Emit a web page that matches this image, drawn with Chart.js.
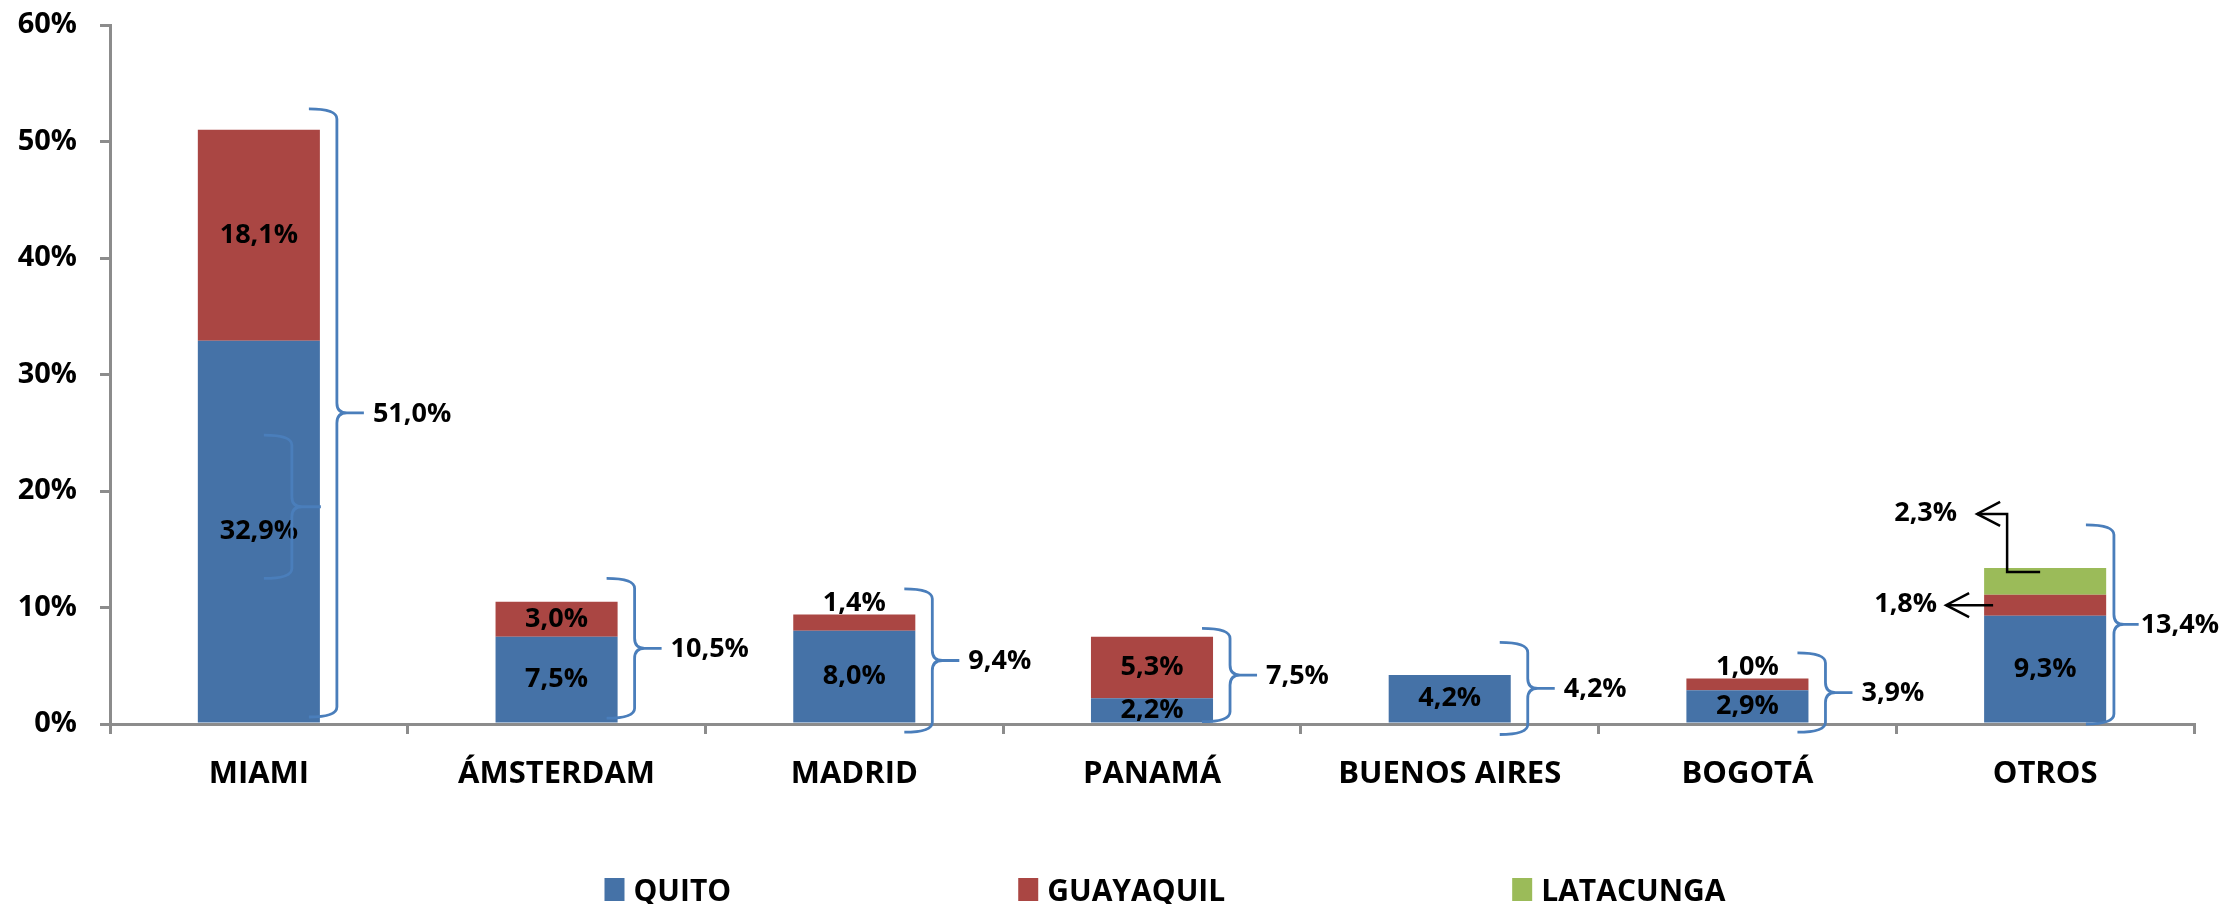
<!DOCTYPE html>
<html>
<head>
<meta charset="utf-8">
<script src="https://cdn.jsdelivr.net/npm/chart.js@4"></script>
<style>
  body { margin: 0; background: #fff; }
</style>
</head>
<body>
<canvas id="chart" width="2222" height="904"></canvas>
<script>
const categories = ['MIAMI', 'ÁMSTERDAM', 'MADRID', 'PANAMÁ', 'BUENOS AIRES', 'BOGOTÁ', 'OTROS'];
const quito = [32.9, 7.5, 8.0, 2.2, 4.2, 2.9, 9.3];
const guayaquil = [18.1, 3.0, 1.4, 5.3, 0, 1.0, 1.8];
const latacunga = [0, 0, 0, 0, 0, 0, 2.3];
const totals = [51.0, 10.5, 9.4, 7.5, 4.2, 3.9, 13.4];
const yTicks = [0, 10, 20, 30, 40, 50, 60];

// how far each bracket reaches above the total / below zero (in % units)
const bracePad = [1.8, 2.0, 2.2, 0.7, 2.8, 2.2, 3.7];
const braceLow = [0.6, 0.5, -0.7, 0.2, -0.9, -0.7, 0];
// the small stray bracket drawn inside the MIAMI bar
const innerBrace = { index: 0, from: 12.5, to: 24.8 };
// labels pulled out of the OTROS bar with arrows
const callouts = [
  { dataset: 1, index: 6, elbow: false },
  { dataset: 2, index: 6, elbow: true }
];

const fmt = v => v.toFixed(1).replace('.', ',') + '%';
const braceColor = '#4A7EBB';

function brace(ctx, x0, x1, x2, yT, yB) {
  const yM = (yT + yB) / 2, r = 10;
  ctx.beginPath();
  ctx.moveTo(x0, yT);
  ctx.quadraticCurveTo(x1, yT, x1, yT + r);
  ctx.lineTo(x1, yM - r);
  ctx.quadraticCurveTo(x1, yM, x1 + r, yM);
  ctx.lineTo(x2, yM);
  ctx.moveTo(x1 + r, yM);
  ctx.quadraticCurveTo(x1, yM, x1, yM + r);
  ctx.lineTo(x1, yB - r);
  ctx.quadraticCurveTo(x1, yB, x0, yB);
  ctx.stroke();
  return yM;
}

function arrowHead(ctx, x, y) {
  ctx.beginPath();
  ctx.moveTo(x + 23, y - 12);
  ctx.lineTo(x, y);
  ctx.lineTo(x + 23, y + 12);
  ctx.stroke();
}

const overlay = {
  id: 'overlay',
  afterDatasetsDraw(chart) {
    const ctx = chart.ctx;
    const y = chart.scales.y;
    ctx.save();

    // values inside / above the bars
    ctx.font = 'bold 27px "Open Sans"';
    ctx.fillStyle = '#000';
    ctx.textAlign = 'center';
    chart.data.datasets.forEach((ds, d) => {
      chart.getDatasetMeta(d).data.forEach((bar, i) => {
        const v = ds.data[i];
        if (!v) return;
        if (callouts.some(c => c.dataset === d && c.index === i)) return;
        if (bar.base - bar.y < 22) {
          ctx.textBaseline = 'bottom';
          ctx.fillText(fmt(v), bar.x, bar.y + 2);
        } else {
          ctx.textBaseline = 'middle';
          ctx.fillText(fmt(v), bar.x, (bar.y + bar.base) / 2);
        }
      });
    });

    // brackets with totals
    const base = chart.getDatasetMeta(0).data;
    ctx.strokeStyle = braceColor;
    ctx.lineWidth = 2.8;
    ctx.textAlign = 'left';
    ctx.textBaseline = 'middle';
    categories.forEach((c, i) => {
      const right = base[i].x + base[i].width / 2;
      const txt = fmt(totals[i]);
      const tx = Math.min(right + 53, chart.width - 3 - ctx.measureText(txt).width);
      const shift = Math.min(0, tx - (right + 53)) / 2;
      const yT = y.getPixelForValue(totals[i] + bracePad[i]);
      const yB = y.getPixelForValue(braceLow[i]);
      const yM = brace(ctx, right - 11 + shift, right + 17 + shift, Math.min(right + 44, tx - 2), yT, yB);
      ctx.fillText(txt, tx, yM + 1);
    });

    const ib = base[innerBrace.index];
    brace(ctx, ib.x + 5, ib.x + 33, ib.x + 62,
      y.getPixelForValue(innerBrace.to), y.getPixelForValue(innerBrace.from));

    // arrows for the thin OTROS segments
    ctx.strokeStyle = '#000';
    ctx.lineWidth = 2.5;
    ctx.textAlign = 'right';
    callouts.forEach(c => {
      const bar = chart.getDatasetMeta(c.dataset).data[c.index];
      const left = bar.x - bar.width / 2;
      const v = chart.data.datasets[c.dataset].data[c.index];
      if (c.elbow) {
        const y0 = bar.y + 4, y1 = bar.y - 54;
        ctx.beginPath();
        ctx.moveTo(bar.x - 5, y0);
        ctx.lineTo(left + 23, y0);
        ctx.lineTo(left + 23, y1);
        ctx.lineTo(left - 7, y1);
        ctx.stroke();
        arrowHead(ctx, left - 7, y1);
        ctx.fillText(fmt(v), left - 27, y1 - 1);
      } else {
        const ym = (bar.y + bar.base) / 2;
        ctx.beginPath();
        ctx.moveTo(left + 9, ym);
        ctx.lineTo(left - 38, ym);
        ctx.stroke();
        arrowHead(ctx, left - 38, ym);
        ctx.fillText(fmt(v), left - 47, ym - 1);
      }
    });
    ctx.restore();
  }
};

const bottomLegend = {
  id: 'bottomLegend',
  afterDraw(chart) {
    const ctx = chart.ctx;
    ctx.save();
    ctx.font = 'bold 30px "Open Sans"';
    ctx.textAlign = 'left';
    ctx.textBaseline = 'middle';
    const items = chart.data.datasets.map(ds => ({
      text: ds.label, color: ds.backgroundColor,
      w: 29 + ctx.measureText(ds.label).width
    }));
    const gap = 287;
    const total = items.reduce((s, it) => s + it.w, 0) + gap * (items.length - 1);
    let x = (chart.chartArea.left + chart.chartArea.right) / 2 + 13 - total / 2;
    const yMid = chart.height - 14;
    items.forEach(it => {
      ctx.fillStyle = it.color;
      ctx.fillRect(x, yMid - 12, 20, 23);
      ctx.fillStyle = '#000';
      ctx.fillText(it.text, x + 29, yMid + 2);
      x += it.w + gap;
    });
    ctx.restore();
  }
};

const axisGrey = '#8C8C8C';

new Chart(document.getElementById('chart').getContext('2d'), {
  type: 'bar',
  data: {
    labels: categories,
    datasets: [
      { label: 'QUITO', data: quito, backgroundColor: '#4572A7' },
      { label: 'GUAYAQUIL', data: guayaquil, backgroundColor: '#AA4643' },
      { label: 'LATACUNGA', data: latacunga, backgroundColor: '#9BBB59' }
    ]
  },
  options: {
    responsive: false,
    animation: false,
    categoryPercentage: 1,
    barPercentage: 0.41,
    layout: { padding: { top: 25, right: 28, left: 0, bottom: 0 } },
    plugins: {
      legend: { display: false },
      tooltip: { enabled: false }
    },
    scales: {
      x: {
        stacked: true,
        grid: { drawOnChartArea: false, offset: true, tickLength: 10, color: axisGrey, lineWidth: 3 },
        border: { color: axisGrey, width: 3 },
        ticks: { color: '#000', font: { family: 'Open Sans', size: 31, weight: 'bold' }, padding: 22 },
        afterFit(scale) { scale.height = 180; }
      },
      y: {
        stacked: true,
        min: 0,
        max: 60,
        afterBuildTicks(scale) { scale.ticks = yTicks.map(v => ({ value: v })); },
        grid: { drawOnChartArea: false, tickLength: 10, color: axisGrey, lineWidth: 3 },
        border: { color: axisGrey, width: 3 },
        ticks: {
          color: '#000',
          font: { family: 'Open Sans', size: 29, weight: 'bold' },
          padding: 23,
          callback: v => v + '%'
        },
        afterFit(scale) {
          scale.width = 110;
          scale.paddingTop = 0;
          scale.paddingBottom = 0;
        }
      }
    }
  },
  plugins: [overlay, bottomLegend]
});
</script>
</body>
</html>
